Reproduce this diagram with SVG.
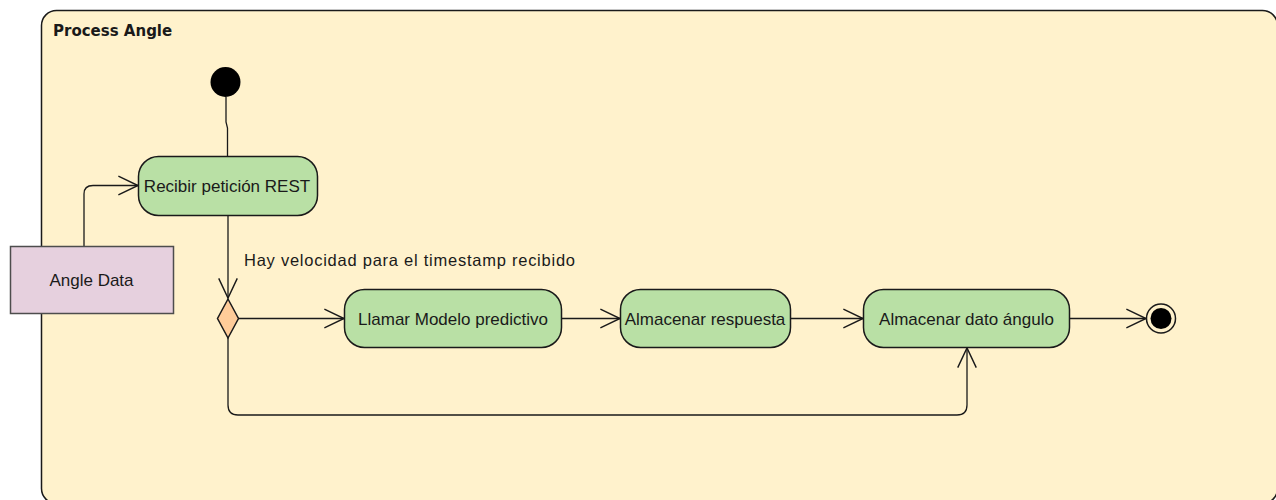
<svg xmlns="http://www.w3.org/2000/svg" width="1276" height="500" viewBox="0 0 1276 500">
<defs>
<style>
.txt{font-family:"Liberation Sans",Arial,sans-serif;font-size:17px;fill:#1a1a1a;text-anchor:middle}
.act{fill:#B9E0A5;stroke:#1a1a1a;stroke-width:1.5}
.edge{fill:none;stroke:#1a1a1a;stroke-width:1.3}
</style>
<marker id="arr" markerUnits="userSpaceOnUse" markerWidth="24" markerHeight="24" viewBox="-20 -11 22 22" refX="0" refY="0" orient="auto">
<path d="M-18,-8.5 L0,0 L-18,8.5" fill="none" stroke="#1a1a1a" stroke-width="1.3"/>
</marker>
</defs>
<g id="container">
<rect x="41.5" y="10.5" width="1236" height="493" rx="15" ry="15" fill="#FFF2CC" stroke="#1a1a1a" stroke-width="1.5"/>
<text x="53" y="36" style="font-family:'DejaVu Sans',Verdana,sans-serif;font-weight:bold;font-size:15px;fill:#1a1a1a">Process Angle</text>
</g>
<g id="connectors">
<path class="edge" d="M226 97 L226 122 L227.5 128 L227.5 185" marker-end="url(#arr)"/>
<path class="edge" d="M84 246 L84 194 Q84 185.5 93 185.5 L138 185.5" marker-end="url(#arr)"/>
<path class="edge" d="M228 215 L228 298" marker-end="url(#arr)"/>
<path class="edge" d="M238.5 318.5 L344 318.5" marker-end="url(#arr)"/>
<path class="edge" d="M562 318.5 L620 318.5" marker-end="url(#arr)"/>
<path class="edge" d="M791 318.5 L863 318.5" marker-end="url(#arr)"/>
<path class="edge" d="M1070 318.5 L1146 318.5" marker-end="url(#arr)"/>
<path class="edge" d="M228 337 L228 405 Q228 415 238 415 L957 415 Q967 415 967 405 L967 348" marker-end="url(#arr)"/>
<text x="244" y="266" style="font-family:'Liberation Sans',Arial,sans-serif;font-size:16.5px;fill:#1a1a1a" textLength="331" lengthAdjust="spacing">Hay velocidad para el timestamp recibido</text>
</g>
<g id="start">
<circle cx="225.5" cy="82" r="15" fill="#000"/>
</g>
<g id="recibir">
<rect class="act" x="138.5" y="156.5" width="179" height="59" rx="20" ry="20"/>
<text class="txt" x="227" y="192">Recibir petición REST</text>
</g>
<g id="angle-data">
<rect x="10.5" y="246.5" width="163" height="67" fill="#E6D0DE" stroke="#4d4d4d" stroke-width="1.5"/>
<text class="txt" x="91.5" y="286">Angle Data</text>
</g>
<g id="decision">
<path d="M228 299 L238.5 318.5 L228 338 L217.5 318.5 Z" fill="#FFCC99" stroke="#1a1a1a" stroke-width="1.5"/>
</g>
<g id="llamar">
<rect class="act" x="344.5" y="289.5" width="217" height="58" rx="20" ry="20"/>
<text class="txt" x="453" y="325">Llamar Modelo predictivo</text>
</g>
<g id="almacenar-respuesta">
<rect class="act" x="620.5" y="289.5" width="170" height="58" rx="20" ry="20"/>
<text class="txt" x="705" y="325">Almacenar respuesta</text>
</g>
<g id="almacenar-dato">
<rect class="act" x="863.5" y="289.5" width="206" height="58" rx="20" ry="20"/>
<text class="txt" x="966.5" y="325">Almacenar dato ángulo</text>
</g>
<g id="end">
<circle cx="1161" cy="318.5" r="14.5" fill="#FFF2CC" stroke="#1a1a1a" stroke-width="1.5"/>
<circle cx="1161" cy="318.5" r="10.5" fill="#000"/>
</g>
</svg>
